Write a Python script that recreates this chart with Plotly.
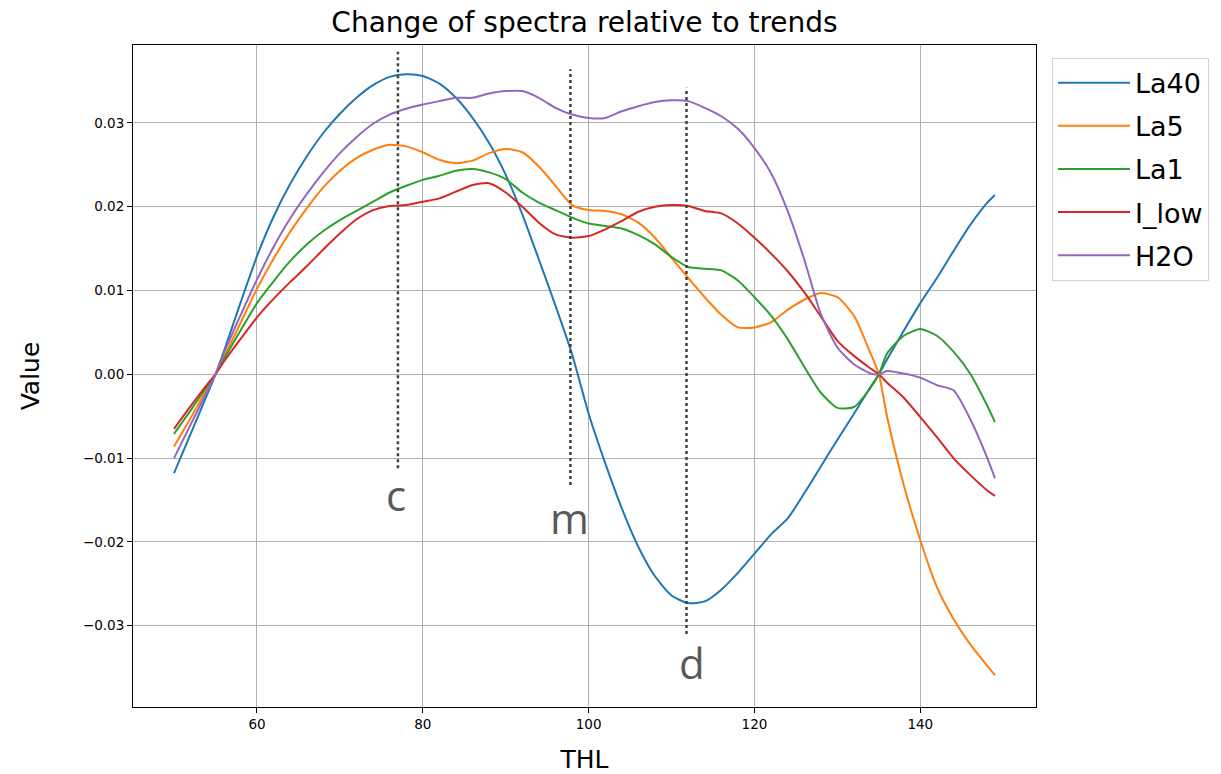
import plotly.graph_objects as go

# ---------------- data ----------------
thl = [50, 52, 54, 55, 56, 58, 60, 62, 64, 66, 68, 70, 72, 74, 76, 78, 80, 82, 84, 86,
       88, 90, 92, 94, 96, 98, 100, 102, 104, 106, 108, 110, 112, 114, 116, 118, 120,
       122, 124, 126, 128, 130, 132, 134, 135, 136, 138, 140, 142, 144, 146, 148, 149]

la40 = [-0.0118, -0.0071, -0.0024, 0.0000, 0.0027, 0.0085, 0.0141, 0.0188, 0.0227, 0.0260,
        0.0288, 0.0311, 0.0330, 0.0345, 0.0355, 0.0358, 0.0356, 0.0347, 0.0330, 0.0306,
        0.0276, 0.0238, 0.0191, 0.0137, 0.0082, 0.0024, -0.0047, -0.0106, -0.0160, -0.0206,
        -0.0241, -0.0264, -0.0273, -0.0271, -0.0257, -0.0237, -0.0214, -0.0191, -0.0172,
        -0.0142, -0.0110, -0.0078, -0.0047, -0.0015, 0.0000, 0.0018, 0.0052, 0.0085, 0.0115,
        0.0147, 0.0178, 0.0204, 0.0214]

la5 = [-0.0086, -0.0052, -0.0017, 0.0000, 0.0020, 0.0061, 0.0102, 0.0138, 0.0170, 0.0198,
       0.0223, 0.0243, 0.0258, 0.0268, 0.0274, 0.0272, 0.0265, 0.0256, 0.0252, 0.0255,
       0.0264, 0.0269, 0.0265, 0.0248, 0.0225, 0.0202, 0.0196, 0.0195, 0.0191, 0.0181,
       0.0163, 0.0139, 0.0115, 0.0092, 0.0071, 0.0056, 0.0056, 0.0062, 0.0077, 0.0089,
       0.0097, 0.0092, 0.0070, 0.0025, 0.0000, -0.0051, -0.0132, -0.0198, -0.0254, -0.0292,
       -0.0322, -0.0347, -0.0359]

la1 = [-0.0071, -0.0043, -0.0014, 0.0000, 0.0018, 0.0052, 0.0085, 0.0111, 0.0135, 0.0155,
       0.0171, 0.0184, 0.0195, 0.0206, 0.0217, 0.0225, 0.0232, 0.0237, 0.0243, 0.0245,
       0.0241, 0.0233, 0.0217, 0.0205, 0.0196, 0.0187, 0.0180, 0.0177, 0.0174, 0.0166,
       0.0155, 0.0140, 0.0128, 0.0126, 0.0124, 0.0112, 0.0092, 0.0070, 0.0042, 0.0009,
       -0.0022, -0.0040, -0.0039, -0.0016, 0.0000, 0.0025, 0.0046, 0.0054, 0.0046, 0.0027,
       0.0001, -0.0036, -0.0057]

i_low = [-0.0065, -0.0038, -0.0012, 0.0000, 0.0015, 0.0042, 0.0068, 0.0090, 0.0110, 0.0129,
         0.0149, 0.0168, 0.0185, 0.0196, 0.0201, 0.0202, 0.0206, 0.0210, 0.0218, 0.0226,
         0.0228, 0.0217, 0.0200, 0.0181, 0.0167, 0.0163, 0.0165, 0.0173, 0.0183, 0.0194,
         0.0200, 0.0202, 0.0201, 0.0195, 0.0192, 0.0180, 0.0163, 0.0144, 0.0123, 0.0098,
         0.0069, 0.0040, 0.0022, 0.0007, 0.0000, -0.0010, -0.0028, -0.0051, -0.0075, -0.0100,
         -0.0120, -0.0138, -0.0145]

h2o = [-0.0100, -0.0060, -0.0020, 0.0000, 0.0025, 0.0070, 0.0113, 0.0152, 0.0186, 0.0215,
       0.0241, 0.0264, 0.0283, 0.0299, 0.0310, 0.0317, 0.0322, 0.0326, 0.0330, 0.0330,
       0.0335, 0.0338, 0.0338, 0.0330, 0.0318, 0.0310, 0.0306, 0.0306, 0.0314, 0.0320,
       0.0325, 0.0327, 0.0326, 0.0318, 0.0308, 0.0293, 0.0270, 0.0240, 0.0195, 0.0137,
       0.0072, 0.0032, 0.0012, 0.0001, 0.0000, 0.0004, 0.0001, -0.0004, -0.0013, -0.0019,
       -0.0053, -0.0098, -0.0124]

series_names = ["La40", "La5", "La1", "I_low", "H2O"]
series_values = [la40, la5, la1, i_low, h2o]
series_colors = ["#1f77b4", "#ff7f0e", "#2ca02c", "#d62728", "#9467bd"]

x_tickvals = [60, 80, 100, 120, 140]
x_ticktext = ["60", "80", "100", "120", "140"]
y_tickvals = [0.03, 0.02, 0.01, 0.0, -0.01, -0.02, -0.03]
y_ticktext = ["0.03", "0.02", "0.01", "0.00", "\u22120.01", "\u22120.02", "\u22120.03"]

# marker lines (c, m, d)
mark_labels = ["c", "m", "d"]
mark_x = [77.0, 97.8, 111.8]
mark_top = [0.0385, 0.0364, 0.0342]
mark_bottom = [-0.0112, -0.0132, -0.0310]
mark_label_x = [76.8, 97.7, 112.5]
mark_label_y = [-0.0143, -0.0171, -0.0344]

# ---------------- figure ----------------
fig = go.Figure()
for name, vals, col in zip(series_names, series_values, series_colors):
    fig.add_trace(go.Scatter(x=thl, y=vals, mode="lines", name=name, legendgroup=name,
                             line=dict(color=col, width=2, shape="spline", smoothing=0.6)))

for lx, lt, lb in zip(mark_x, mark_top, mark_bottom):
    fig.add_shape(type="line", xref="x", yref="y", x0=lx, x1=lx, y0=lb, y1=lt,
                  line=dict(color="#404040", width=2.5, dash="dot"))

for lab, lx, ly in zip(mark_labels, mark_label_x, mark_label_y):
    fig.add_annotation(x=lx, y=ly, xref="x", yref="y", text=lab, showarrow=False,
                       font=dict(family="Open Sans", size=42, color="#595959"),
                       xanchor="center", yanchor="middle")

axis_common = dict(showline=True, linecolor="black", linewidth=1, mirror=True,
                   ticks="outside", ticklen=5, tickwidth=1, tickcolor="black",
                   showgrid=True, gridcolor="#b0b0b0", gridwidth=1, zeroline=False,
                   tickfont=dict(family="DejaVu Sans", size=13.5, color="black"))

fig.update_xaxes(range=[45.05, 153.95], tickvals=x_tickvals, ticktext=x_ticktext,
                 title=dict(text="THL", font=dict(family="DejaVu Sans", size=25, color="black"),
                            standoff=25),
                 **axis_common)
fig.update_yaxes(range=[-0.0397, 0.0393], tickvals=y_tickvals, ticktext=y_ticktext,
                 title=dict(text="Value", font=dict(family="DejaVu Sans", size=25, color="black"),
                            standoff=36),
                 **axis_common)

fig.update_layout(
    width=1221, height=774,
    margin=dict(l=133, r=185, t=45, b=67, autoexpand=False),
    paper_bgcolor="white", plot_bgcolor="white",
    title=dict(text="Change of spectra relative to trends", x=0.4787, xanchor="center",
               y=1 - 22 / 774, yanchor="middle", yref="container",
               font=dict(family="DejaVu Sans", size=28, color="black")),
    legend=dict(x=1.0177, y=0.9808, xanchor="left", yanchor="top",
                bgcolor="white", bordercolor="#d0d0d0", borderwidth=1,
                font=dict(family="DejaVu Sans", size=27, color="black"),
                itemwidth=72, tracegroupgap=5, traceorder="grouped"),
    showlegend=True,
)

fig.write_html("out.html")
